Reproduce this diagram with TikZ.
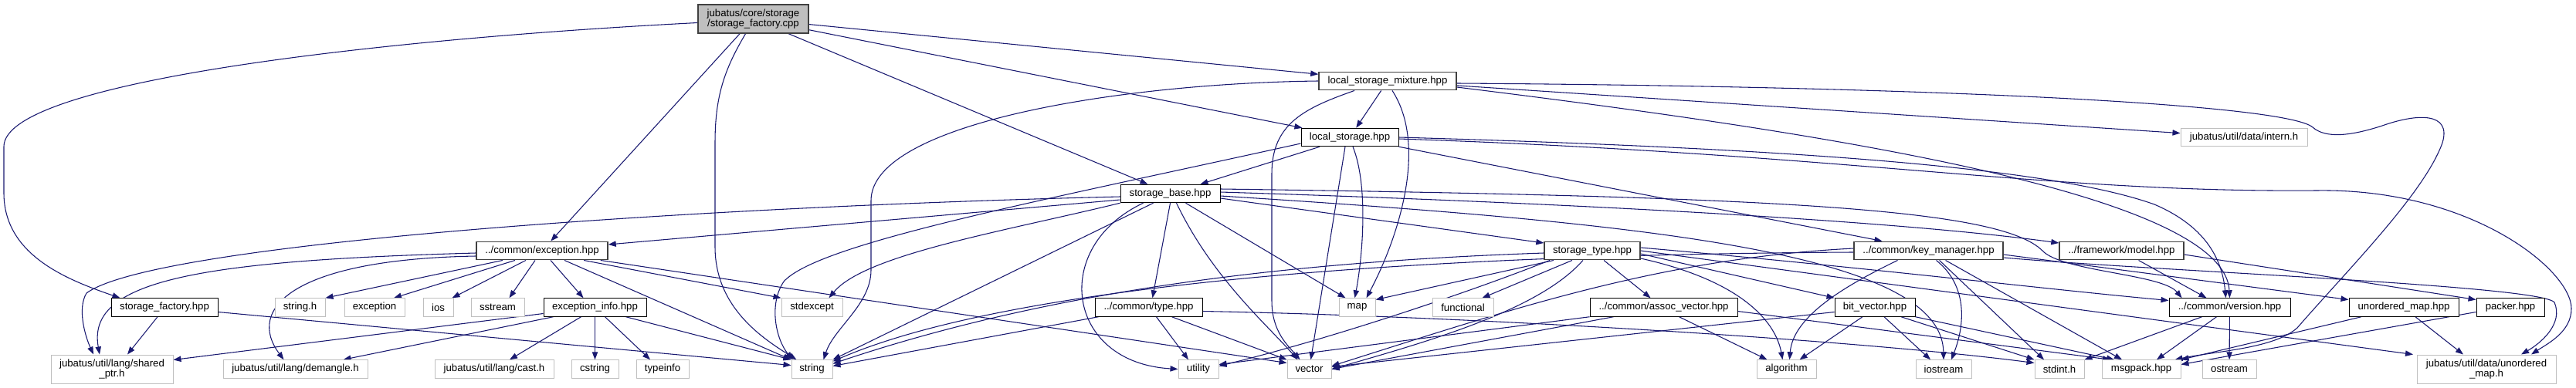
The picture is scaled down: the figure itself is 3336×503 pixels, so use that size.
\documentclass[tikz,border=0pt]{standalone}
\usepackage{fontspec}
\setmainfont{Liberation Sans}
\usetikzlibrary{arrows.meta,backgrounds}
\definecolor{midnight}{HTML}{191970}
\definecolor{grey75}{HTML}{BFBFBF}
\definecolor{grey25}{HTML}{404040}
\begin{document}
\begin{tikzpicture}[x=0.75pt, y=-0.75pt,
	box/.style={draw, rectangle, fill=white, inner sep=0pt, minimum height=17.6pt, line width=0.75pt, font=\fontsize{9.9}{10}\selectfont},
	hdr/.style={box, draw=black},
	hdrd/.style={box, draw=grey25, line width=1.1pt},
	sys/.style={box, draw=grey75},
	root/.style={box, draw=grey25, fill=grey75, line width=1.1pt},
	tall/.style={minimum height=27.75pt, align=center},
	bw/.style={minimum width=#1*0.75pt},
	dep/.style={draw=midnight, line width=0.8pt, -{Triangle[length=7.5pt,width=5.5pt]}}]
		\useasboundingbox (0,0) rectangle (3336,503);
		
		% headers
		\node[root, tall, bw=143] (R) at (975.5,24.5) {jubatus/core/storage\\/storage\_factory.cpp};
		\node[hdrd, bw=178] (lsm) at (1797,105) {local\_storage\_mixture.hpp};
		\node[hdr, bw=126] (ls) at (1748,178) {local\_storage.hpp};
		\node[sys, bw=164] (intern) at (2906,178) {jubatus/util/data/intern.h};
		\node[hdr, bw=129] (sb) at (1515.5,251) {storage\_base.hpp};
		\node[hdrd, bw=170] (exc) at (702,325) {../common/exception.hpp};
		\node[hdrd, bw=124] (st) at (2062,325) {storage\_type.hpp};
		\node[hdrd, bw=193] (km) at (2497.5,325) {../common/key\_manager.hpp};
		\node[hdrd, bw=161] (model) at (2747.5,325) {../framework/model.hpp};
		
		\node[hdr, bw=138] (sfh) at (213,398.5) {storage\_factory.hpp};
		\node[sys, bw=65] (strh) at (388.5,398.5) {string.h};
		\node[sys, bw=78] (exception) at (485,398.5) {exception};
		\node[sys, bw=39] (ios) at (567.5,398.5) {ios};
		\node[sys, bw=69] (sstream) at (644.5,398.5) {sstream};
		\node[hdr, bw=133] (einfo) at (770.5,398.5) {exception\_info.hpp};
		\node[sys, bw=79] (stdexcept) at (1051.5,398.5) {stdexcept};
		\node[hdr, bw=139] (typeh) at (1487.5,398.5) {../common/type.hpp};
		\node[sys, bw=47] (map) at (1757.5,398.5) {map};
		\node[sys, bw=79] (functional) at (1894.5,398.5) {functional};
		\node[hdr, bw=191] (assoc) at (2154.5,398.5) {../common/assoc\_vector.hpp};
		\node[hdr, bw=104] (bitv) at (2428,398.5) {bit\_vector.hpp};
		\node[hdr, bw=157] (ver) at (2887.5,398.5) {../common/version.hpp};
		\node[hdr, bw=142] (uomhpp) at (3113,398.5) {unordered\_map.hpp};
		\node[hdr, bw=88] (packer) at (3251,398.5) {packer.hpp};
		
		% system and util headers
		\node[sys, tall, bw=158] (shptr) at (145,478.5) {jubatus/util/lang/shared\\\_ptr.h};
		\node[sys, bw=187] (demangle) at (382.5,478.5) {jubatus/util/lang/demangle.h};
		\node[sys, bw=154] (cast) at (640,478.5) {jubatus/util/lang/cast.h};
		\node[sys, bw=61] (cstring) at (770.5,478.5) {cstring};
		\node[sys, bw=68] (typeinfo) at (858,478.5) {typeinfo};
		\node[sys, bw=53] (str) at (1051.5,478.5) {string};
		\node[sys, bw=52] (utility) at (1552,478.5) {utility};
		\node[sys, bw=57] (vec) at (1695.5,478.5) {vector};
		\node[sys, bw=77] (algorithm) at (2313.5,478.5) {algorithm};
		\node[sys, bw=72] (iostream) at (2517,478.5) {iostream};
		\node[sys, bw=64] (stdint) at (2667,478.5) {stdint.h};
		\node[sys, bw=102] (msgpack) at (2773,478.5) {msgpack.hpp};
		\node[sys, bw=70] (ostream) at (2887,478.5) {ostream};
		\node[sys, tall, bw=180] (umaph) at (3220,478.5) {jubatus/util/data/unordered\\\_map.h};
		
		\begin{scope}[on background layer]
		% storage_factory.cpp
		\draw[dep] ([shift={(0,5)}]R.west) .. controls (500,50) and (5,105) .. (5,190) -- (5,250) .. controls (5,330) and (85,362) .. (sfh.168);
		\draw[dep] (R) -- (exc);
		\draw[dep] ([shift={(-10,0)}]R.south) .. controls (938,90) and (926,125) .. (926,185) -- (926,320) .. controls (926,400) and (990,440) .. ([shift={(-20,0)}]str.north);
		\draw[dep] (R) -- (sb);
		\draw[dep] (R) -- (ls);
		\draw[dep] (R) -- (lsm);
		
		% local_storage_mixture.hpp
		\draw[dep] (lsm) -- (ls);
		\draw[dep] (lsm) -- (intern);
		\draw[dep] (lsm.west) .. controls (1450,108) and (1128,160) .. (1128,260) -- (1128,350) .. controls (1128,395) and (1080,425) .. ([shift={(15,0)}]str.north);
		\draw[dep] ([shift={(-43,0)}]lsm.south) .. controls (1690,140) and (1647,160) .. (1647,225) -- (1647,390) .. controls (1647,430) and (1668,448) .. ([shift={(-12,0)}]vec.north);
		\draw[dep] ([shift={(6,0)}]lsm.south) .. controls (1850,190) and (1810,310) .. ([shift={(12,0)}]map.north);
		\draw[dep] ([shift={(0,3)}]lsm.east) .. controls (2500,112) and (2960,135) .. (2995,165) .. controls (3012,180) and (3045,176) .. (3085,163) .. controls (3130,147) and (3175,145) .. (3163,185) .. controls (3140,250) and (3040,350) .. (2975,425) .. controls (2945,452) and (2870,455) .. ([shift={(-8,0)}]msgpack.north east);
		\draw[dep] ([shift={(0,8)}]lsm.east) .. controls (2350,170) and (2880,250) .. (ver.north);
		
		% local_storage.hpp
		\draw[dep] (ls) -- (sb);
		\draw[dep] ([shift={(0,8)}]ls.west) .. controls (1350,260) and (1060,315) .. (1015,365) .. controls (995,395) and (1005,440) .. ([shift={(-25,0)}]str.north);
		\draw[dep] ([shift={(-6,0)}]ls.south) -- ([shift={(2,0)}]vec.north);
		\draw[dep] ([shift={(4,0)}]ls.south) .. controls (1772,240) and (1765,330) .. ([shift={(-3,0)}]map.north);
		\draw[dep] (ls.south east) -- ([shift={(-60,0)}]km.north);
		\draw[dep] (ls.east) .. controls (2300,192) and (2650,215) .. (2790,265) .. controls (2860,295) and (2878,340) .. ([shift={(-5,0)}]ver.north);
		\draw[dep] ([shift={(0,2)}]ls.east) .. controls (2400,200) and (2650,250) .. (3000,247) .. controls (3200,244) and (3330,350) .. (3330,400) .. controls (3330,430) and (3300,445) .. ([shift={(58,0)}]umaph.north);
		
		% storage_base.hpp
		\draw[dep] ([shift={(0,4)}]sb.west) .. controls (900,268) and (200,315) .. (112,380) .. controls (100,400) and (110,435) .. ([shift={(-24,0)}]shptr.north);
		\draw[dep] ([shift={(0,8)}]sb.west) -- ([shift={(0,-8)}]exc.east);
		\draw[dep] ([shift={(-22,0)}]sb.south) -- (str.north east);
		\draw[dep] (sb.south west) .. controls (1300,300) and (1120,330) .. ([shift={(22,0)}]stdexcept.north);
		\draw[dep] ([shift={(-35,0)}]sb.south) .. controls (1360,320) and (1380,470) .. (utility.west);
		\draw[dep] (sb.south) -- ([shift={(5,0)}]typeh.north);
		\draw[dep] ([shift={(8,0)}]sb.south) .. controls (1570,360) and (1640,420) .. ([shift={(-15,0)}]vec.north);
		\draw[dep] ([shift={(20,0)}]sb.south) -- ([shift={(-15,0)}]map.north);
		\draw[dep] ([shift={(0,6)}]sb.east) -- ([shift={(0,-10)}]st.west);
		\draw[dep] ([shift={(0,-2)}]sb.east) .. controls (2000,262) and (2450,285) .. ([shift={(0,-10)}]model.west);
		\draw[dep] ([shift={(0,-6)}]sb.east) .. controls (2300,255) and (2590,270) .. (2645,325) .. controls (2670,352) and (2800,355) .. ([shift={(-62,0)}]ver.north);
		\draw[dep] ([shift={(0,3)}]sb.east) .. controls (2150,290) and (2515,330) .. (iostream.north);
		
		% exception.hpp
		\draw[dep] ([shift={(0,3)}]exc.west) .. controls (250,338) and (112,365) .. ([shift={(-16,0)}]shptr.north);
		\draw[dep] ([shift={(0,7)}]exc.west) .. controls (380,336) and (318,400) .. ([shift={(-15,0)}]demangle.north);
		\draw[dep] ([shift={(-51,0)}]exc.south) -- (strh.north east);
		\draw[dep] ([shift={(-35,0)}]exc.south) -- ([shift={(25,0)}]exception.north);
		\draw[dep] ([shift={(-21,0)}]exc.south) -- ([shift={(18,0)}]ios.north);
		\draw[dep] ([shift={(-9,0)}]exc.south) -- ([shift={(15,0)}]sstream.north);
		\draw[dep] ([shift={(11,0)}]exc.south) -- ([shift={(-15,0)}]einfo.north);
		\draw[dep] ([shift={(29,0)}]exc.south) -- (str.north west);
		\draw[dep] ([shift={(54,0)}]exc.south) -- (stdexcept.north west);
		\draw[dep] ([shift={(-10,0)}]exc.south east) -- ([shift={(0,-8)}]vec.west);
		
		% exception_info.hpp
		\draw[dep] ([shift={(0,8)}]einfo.west) -- ([shift={(0,-12)}]shptr.east);
		\draw[dep] ([shift={(-54,0)}]einfo.south) -- ([shift={(62,0)}]demangle.north);
		\draw[dep] ([shift={(-18,0)}]einfo.south) -- ([shift={(20,0)}]cast.north);
		\draw[dep] (einfo) -- (cstring);
		\draw[dep] ([shift={(13,0)}]einfo.south) -- ([shift={(-16,0)}]typeinfo.north);
		\draw[dep] ([shift={(40,0)}]einfo.south) -- (str.north west);
		
		% storage_factory.hpp
		\draw[dep] ([shift={(-9,0)}]sfh.south) -- ([shift={(20,0)}]shptr.north);
		\draw[dep] ([shift={(0,6)}]sfh.east) -- ([shift={(0,-5)}]str.west);
		
		% type.hpp
		\draw[dep] ([shift={(5,0)}]typeh.south west) -- ([shift={(0,-4)}]str.east);
		\draw[dep] ([shift={(10,0)}]typeh.south) -- ([shift={(-13,0)}]utility.north);
		\draw[dep] ([shift={(30,0)}]typeh.south) -- (vec.north west);
		\draw[dep] ([shift={(0,5)}]typeh.east) .. controls (1900,410) and (2400,440) .. ([shift={(0,-8)}]stdint.west);
		
		% storage_type.hpp
		\draw[dep] ([shift={(-50,0)}]st.south) -- ([shift={(0,-10)}]map.east);
		\draw[dep] ([shift={(-26,0)}]st.south) -- ([shift={(25,0)}]functional.north);
		\draw[dep] ([shift={(15,0)}]st.south) -- ([shift={(-17,0)}]assoc.north);
		\draw[dep] ([shift={(0,3)}]st.west) .. controls (1650,340) and (1350,380) .. ([shift={(0,-7)}]str.east);
		\draw[dep] ([shift={(-55,0)}]st.south) .. controls (1900,380) and (1720,440) .. ([shift={(0,-4)}]utility.east);
		\draw[dep] ([shift={(-12,0)}]st.south) .. controls (1995,400) and (1860,440) .. (vec.east);
		\draw[dep] ([shift={(0,4)}]st.east) -- (bitv.north west);
		\draw[dep] ([shift={(0,10)}]st.east) .. controls (2260,365) and (2300,420) .. ([shift={(-5,0)}]algorithm.north);
		\draw[dep] (st.east) -- ([shift={(-95,0)}]umaph.north);
		\draw[dep] ([shift={(0,-4)}]st.east) .. controls (2400,345) and (2650,375) .. ([shift={(0,-9)}]ver.west);
		
		% key_manager.hpp
		\draw[dep] ([shift={(0,2)}]km.west) .. controls (1800,330) and (1300,372) .. ([shift={(0,-10)}]str.east);
		\draw[dep] ([shift={(0,-3)}]km.west) .. controls (2150,335) and (1960,400) .. ([shift={(0,-4)}]vec.east);
		\draw[dep] ([shift={(-40,0)}]km.south) .. controls (2390,370) and (2322,410) .. ([shift={(4,0)}]algorithm.north);
		\draw[dep] ([shift={(10,0)}]km.south) .. controls (2548,370) and (2545,420) .. ([shift={(10,0)}]iostream.north);
		\draw[dep] ([shift={(14,0)}]km.south) -- ([shift={(-20,0)}]stdint.north);
		\draw[dep] ([shift={(22,0)}]km.south) -- ([shift={(-25,0)}]msgpack.north);
		\draw[dep] ([shift={(0,5)}]km.east) -- ([shift={(0,-10)}]uomhpp.west);
		\draw[dep] ([shift={(0,9)}]km.east) .. controls (2800,352) and (3290,370) .. (3308,392) .. controls (3320,420) and (3290,445) .. ([shift={(45,0)}]umaph.north);
		
		% bit_vector.hpp
		\draw[dep] ([shift={(0,6)}]bitv.west) -- ([shift={(0,-3)}]vec.east);
		\draw[dep] ([shift={(-16,0)}]bitv.south) -- ([shift={(17,0)}]algorithm.north);
		\draw[dep] ([shift={(12,0)}]bitv.south) -- ([shift={(-17,0)}]iostream.north);
		\draw[dep] ([shift={(34,0)}]bitv.south) -- (stdint.north west);
		\draw[dep] (bitv.south east) -- ([shift={(-35,0)}]msgpack.north);
		
		% assoc_vector.hpp
		\draw[dep] ([shift={(20,0)}]assoc.south) -- ([shift={(-25,0)}]algorithm.north);
		\draw[dep] ([shift={(-65,0)}]assoc.south) -- (vec.east);
		\draw[dep] (assoc.south west) -- ([shift={(0,-6)}]utility.east);
		\draw[dep] ([shift={(0,5)}]assoc.east) -- ([shift={(-40,0)}]msgpack.north);
		
		% version.hpp, unordered_map.hpp, packer.hpp, model.hpp
		\draw[dep] ([shift={(-36,0)}]ver.south) -- (stdint.north east);
		\draw[dep] ([shift={(-17,0)}]ver.south) -- ([shift={(20,0)}]msgpack.north);
		\draw[dep] (ver) -- (ostream);
		\draw[dep] ([shift={(-55,0)}]uomhpp.south) -- (msgpack.north east);
		\draw[dep] ([shift={(15,0)}]uomhpp.south) -- ([shift={(-30,0)}]umaph.north);
		\draw[dep] ([shift={(0,6)}]packer.west) -- ([shift={(0,-6)}]msgpack.east);
		\draw[dep] ([shift={(22,0)}]model.south) -- ([shift={(-30,0)}]ver.north);
		\draw[dep] ([shift={(0,5)}]model.east) -- ([shift={(0,-10)}]packer.west);
		\end{scope}
	\end{tikzpicture}
\end{document}
